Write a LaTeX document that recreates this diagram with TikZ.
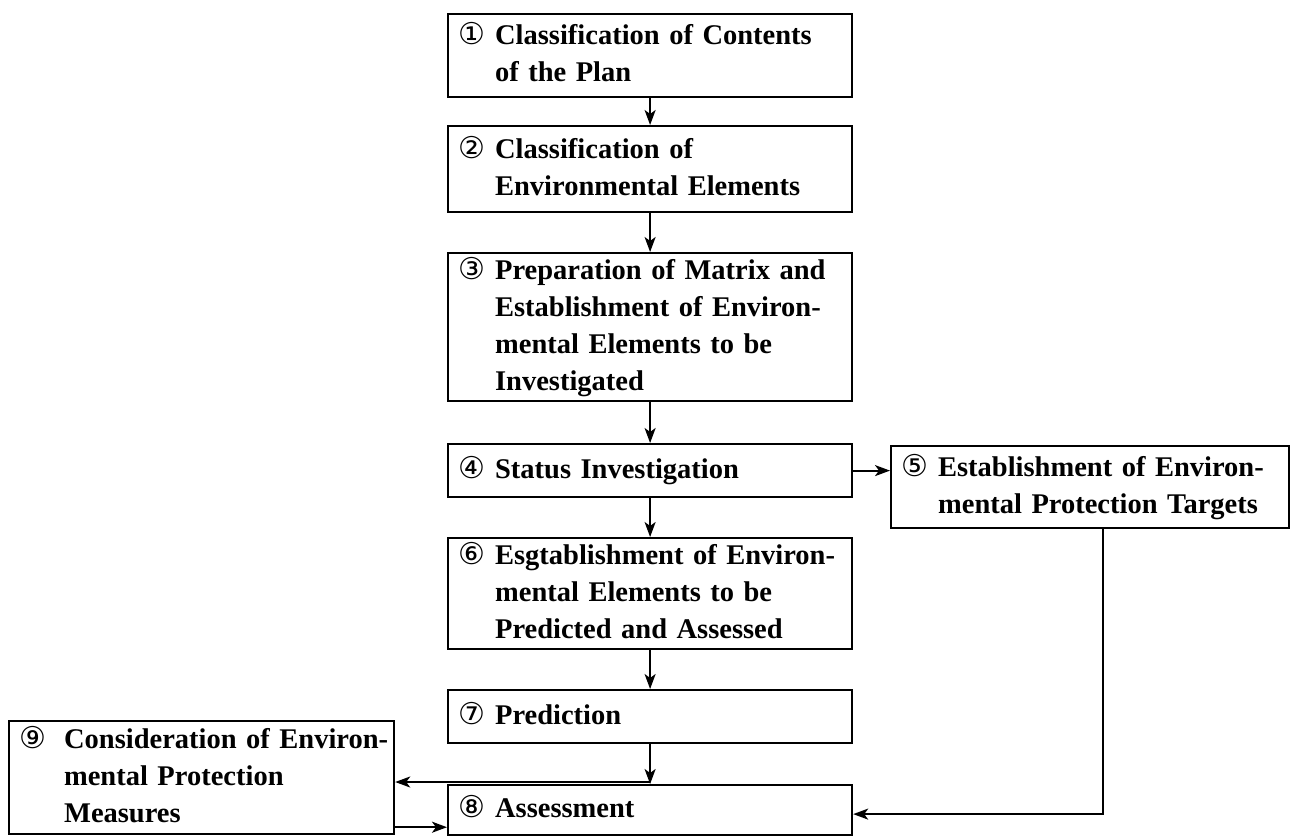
\documentclass[tikz,border=0pt]{standalone}
\usepackage{fontspec}
\setmainfont{Liberation Serif}[WordSpace=0.8]
\newfontfamily\numfont{DejaVu Sans}
\usetikzlibrary{arrows.meta}
\usetikzlibrary{calc}
\tikzset{
  % boxes of the procedure, placed by their top left corner
  stage/.style={
    draw,line width=2.2pt,anchor=north west,
    inner xsep=10pt,inner ysep=0pt,align=left,
    font=\bfseries\fontsize{28.5}{37}\selectfont,
  },
  % connectors between the boxes
  flow/.style={line width=2pt,-{Stealth[length=15pt,width=11pt,inset=4pt]}},
}
% circled step number, then the lines of the box
\newcommand{\stepno}[3][37pt]{%
  \makebox[#1][l]{{\numfont\mdseries\fontsize{30}{30}\selectfont #2}}%
  \begin{tabular}[t]{@{}l@{}}#3\end{tabular}}

\begin{document}
\begin{tikzpicture}[x=1pt,y=-1pt]
  \useasboundingbox (0,0) rectangle (1292,836);

  \node[stage,text width=384pt,minimum height=83pt] (plan) at (447,13)
    {\stepno{①}{Classification of Contents\\of the Plan}};
  \node[stage,text width=384pt,minimum height=86pt] (elements) at (447,125)
    {\stepno{②}{Classification of\\Environmental Elements}};
  \node[stage,text width=384pt,minimum height=148pt] (prep) at (447,252)
    {\stepno{③}{Preparation of Matrix and\\Establishment of Environ-\\mental Elements to be\\Investigated}};
  \node[stage,text width=384pt,minimum height=53pt] (status) at (447,443)
    {\stepno{④}{Status Investigation}};
  \node[stage,text width=378pt,minimum height=82pt] (targets) at (890,445)
    {\stepno{⑤}{Establishment of Environ-\\mental Protection Targets}};
  \node[stage,text width=384pt,minimum height=111pt] (predicted) at (447,537)
    {\stepno{⑥}{Esgtablishment of Environ-\\mental Elements to be\\Predicted and Assessed}};
  \node[stage,text width=384pt,minimum height=53pt] (prediction) at (447,689)
    {\stepno{⑦}{Prediction}};
  \node[stage,text width=384pt,minimum height=50pt] (assessment) at (447,784)
    {\stepno{⑧}{Assessment}};
  \node[stage,text width=365pt,minimum height=113pt] (measures) at (8,720)
    {\stepno[45pt]{⑨}{Consideration of Environ-\\mental Protection\\Measures}};

  \path
  (plan) edge[flow] (elements)
  (elements) edge[flow] (prep)
  (prep) edge[flow] (status)
  (status) edge[flow] (predicted)
  (predicted) edge[flow] (prediction)
  (prediction) edge[flow] (assessment)
  ;

  \draw[flow] (status.east) -- (status.east -| targets.west);
  % branch to the measures, just above the assessment box
  \coordinate (fork) at ([yshift=2pt]assessment.north);
  \draw[flow] (fork) -- (fork -| measures.east);
  \draw[flow] ([yshift=8pt]measures.south east) -- ([yshift=8pt]measures.south east -| assessment.west);
  \draw[flow] ([xshift=13pt]targets.south) |- ([yshift=-4pt]assessment.east);
\end{tikzpicture}
\end{document}
